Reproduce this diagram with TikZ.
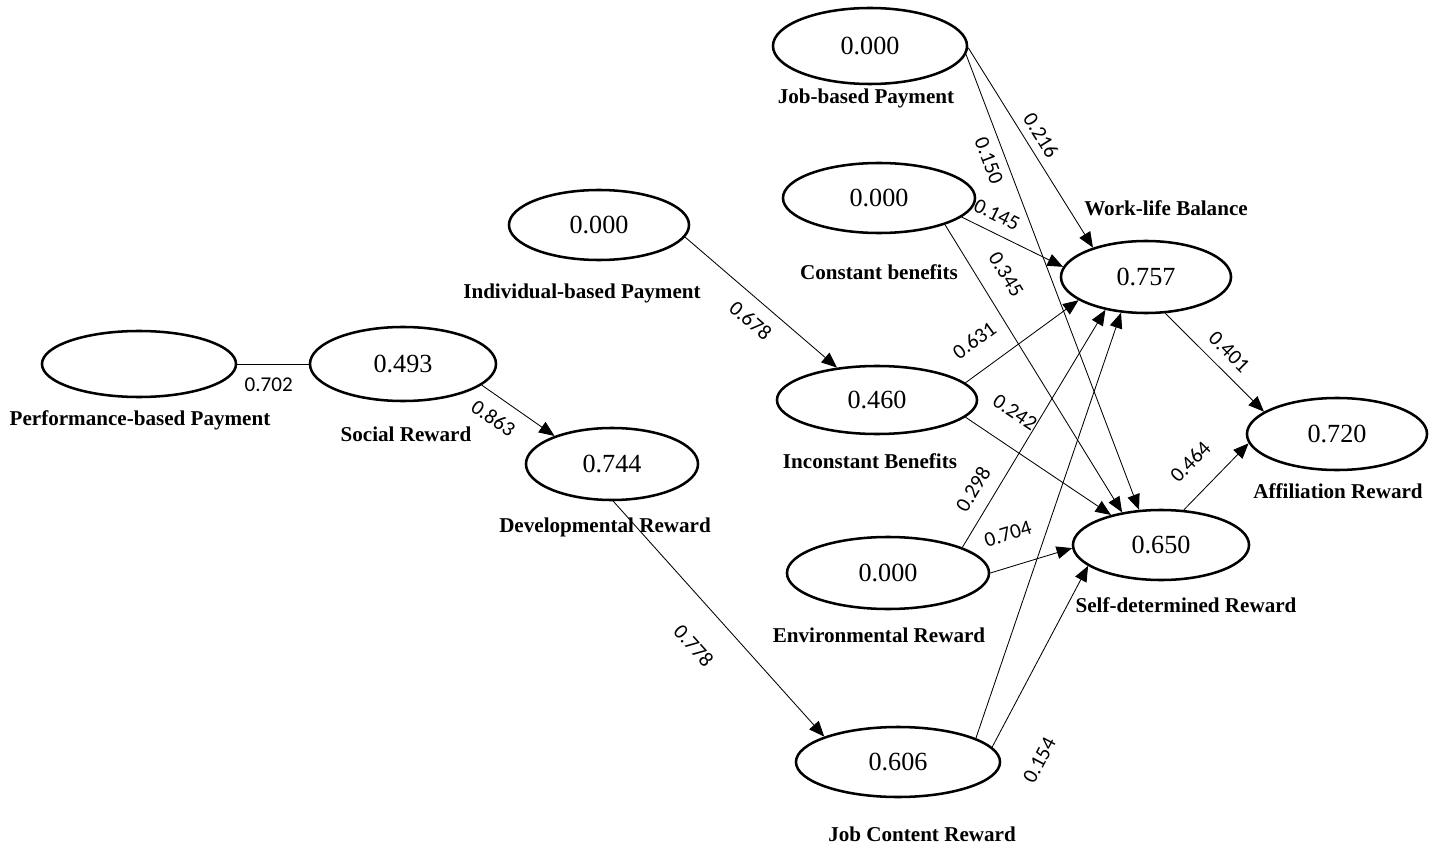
\documentclass[tikz,border=0pt]{standalone}
\usepackage{fontspec}
\setmainfont{Liberation Serif}
\newfontfamily\coeffont{Carlito}
\usetikzlibrary{arrows.meta}
\usetikzlibrary{shapes.geometric}
\tikzset{ell/.style 2 args = {draw, ellipse, line width=1.8pt, inner sep=0,
                              minimum width=#1, minimum height=#2,
                              font=\fontsize{18.6}{20}\selectfont}}
\tikzset{lbl/.style = {font=\fontsize{15}{17}\selectfont\bfseries, inner sep=1pt}}
\tikzset{coef/.style = {font=\coeffont\fontsize{15}{16}\selectfont, inner sep=1pt, sloped}}
\tikzset{lnk/.style = {line width=0.6pt, -{Triangle[length=11pt, width=9pt]}}}

\begin{document}
\begin{tikzpicture}[x=0.025cm, y=-0.025cm]
    \useasboundingbox (0, 0) rectangle (1440, 846);
    % latent variables
    \node [ell={4.85cm}{1.65cm}] (pbp) at (139, 364) {};
    \node [ell={4.65cm}{1.85cm}] (sr) at (403, 364) {0.493};
    \node [ell={4.3cm}{1.8cm}] (dr) at (612, 464) {0.744};
    \node [ell={4.5cm}{1.75cm}] (ibp) at (599, 225) {0.000};
    \node [ell={4.85cm}{1.9cm}] (jbp) at (870, 46) {0.000};
    \node [ell={4.8cm}{1.75cm}] (cb) at (879, 198) {0.000};
    \node [ell={5cm}{1.7cm}] (ib) at (877, 400) {0.460};
    \node [ell={5.05cm}{1.8cm}] (er) at (888, 573) {0.000};
    \node [ell={5.1cm}{1.75cm}] (jcr) at (898, 762) {0.606};
    \node [ell={4.25cm}{1.8cm}] (wlb) at (1146, 277) {0.757};
    \node [ell={4.4cm}{1.75cm}] (sdr) at (1161, 545) {0.650};
    \node [ell={4.5cm}{1.8cm}] (ar) at (1337, 434) {0.720};
    % names
    \node [lbl] (pbp-t) at (140, 420) {Performance-based Payment};
    \node [lbl] (sr-t) at (406, 434) {Social Reward};
    \node [lbl] (dr-t) at (605, 527) {Developmental Reward};
    \node [lbl] (ibp-t) at (582, 293) {Individual-based Payment};
    \node [lbl] (jbp-t) at (866, 98) {Job-based Payment};
    \node [lbl] (cb-t) at (879, 272) {Constant benefits};
    \node [lbl] (ib-t) at (870, 461) {Inconstant Benefits};
    \node [lbl] (er-t) at (879, 635) {Environmental Reward};
    \node [lbl] (jcr-t) at (922, 834) {Job Content Reward};
    \node [lbl] (wlb-t) at (1166, 208) {Work-life Balance};
    \node [lbl] (sdr-t) at (1186, 605) {Self-determined Reward};
    \node [lbl] (ar-t) at (1338, 491) {Affiliation Reward};
    % paths
    \draw [line width=0.6pt] (pbp.east) -- node [coef, pos=0.44, below=8.6pt] {0.702} (sr.west);
    \draw [lnk] (sr.-15) -- node [coef, pos=0.32, below=7.9pt] {0.863} (dr.154);
    \draw [lnk] (ibp.-8) -- node [coef, pos=0.52, below=8.1pt] {0.678} (ib.141);
    \draw [lnk] (dr.-88) -- node [coef, pos=0.51, below=19.4pt] {0.778} (jcr.161);
    \draw [lnk] (jbp.-1) -- node [coef, pos=0.48, above=4.5pt] {0.216} (wlb.151);
    \draw [lnk] (jbp.-5) -- node [coef, pos=0.22, below=5.2pt] {0.150} (sdr.122);
    \draw [lnk] (cb.-13) -- node [coef, pos=0.27, above=6.4pt] {0.145} (wlb.173);
    \draw [lnk] (cb.-22) -- node [coef, pos=0.22, above=12.3pt] {0.345} (sdr.140);
    \draw [lnk] (ib.11) -- node [coef, pos=0.23, above=14.3pt] {0.631} (wlb.199);
    \draw [lnk] (ib.-11) -- node [coef, pos=0.22, above=16.2pt] {0.242} (sdr.149);
    \draw [lnk] (er.19) -- node [coef, pos=0.2, above=8.4pt] {0.298} (wlb.219);
    \draw [lnk] (er.0) -- node [coef, pos=0.33, above=16.6pt] {0.704} (sdr.182);
    \draw [lnk] (jcr.17) -- (wlb.235);
    \draw [lnk] (jcr.9) -- node [coef, pos=0.05, below=28pt] {0.154} (sdr.196);
    \draw [lnk] (wlb.-62) -- node [coef, pos=0.52, above=6.5pt] {0.401} (ar.163);
    \draw [lnk] (sdr.57) -- node [coef, pos=0.42, above=14.2pt] {0.464} (ar.186);
  \end{tikzpicture}
\end{document}
